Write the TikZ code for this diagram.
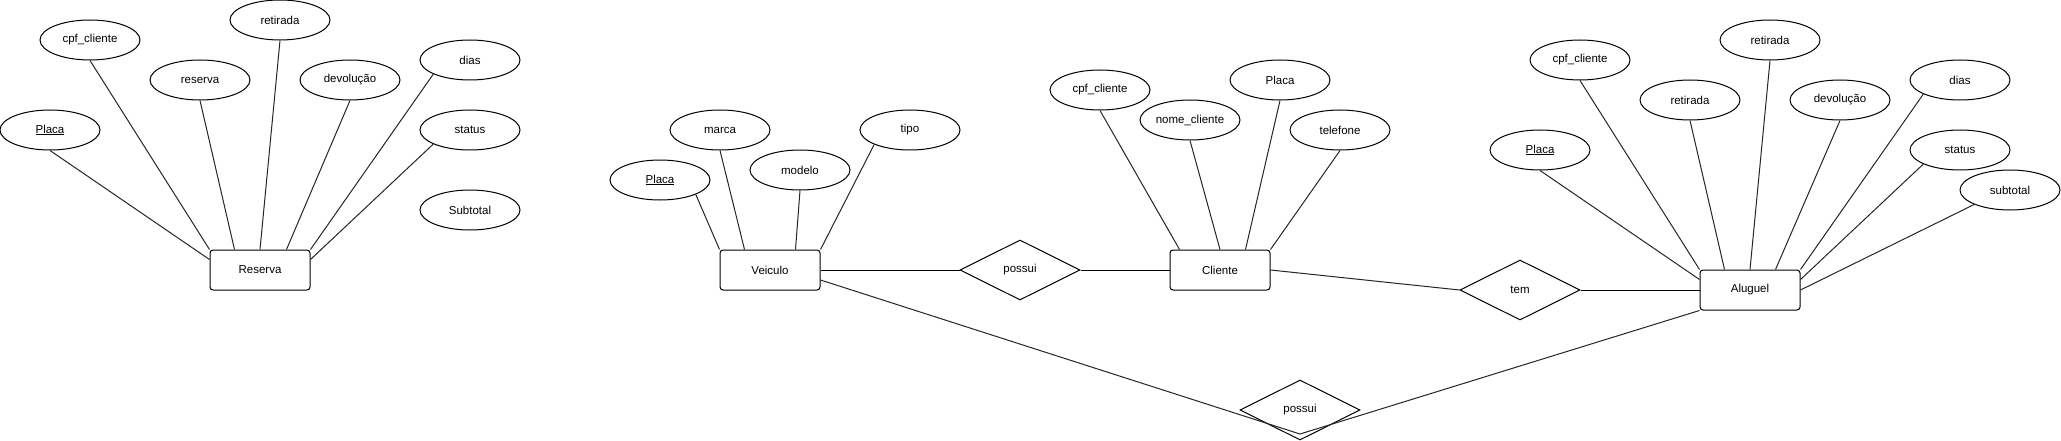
\documentclass[tikz,border=0pt]{standalone}
\usepackage{fontspec}
\setmainfont{Liberation Sans}
\usetikzlibrary{shapes.geometric}
\begin{document}
\begin{tikzpicture}[x=1pt,y=-1pt,
  lbl/.style={font=\fontsize{11.5}{13}\selectfont},
  attr/.style={ellipse,draw,line width=1pt,minimum width=100pt,minimum height=40pt,inner sep=0pt,lbl},
  ent/.style={rectangle,draw,rounded corners=3pt,line width=1pt,minimum width=100pt,minimum height=40pt,inner sep=0pt,lbl},
  rel/.style={diamond,draw,line width=1pt,minimum width=120pt,minimum height=60pt,shape aspect=2,inner sep=0pt,lbl},
  link/.style={line width=1pt,draw=black!85},
  hlink/.style={line width=1pt,draw=black}]
\useasboundingbox (0,0) rectangle (2061,441);
\fill[white] (0,0) rectangle (2061,441);

% ---------- Reserva ----------
\node[ent] (res) at (260,270) {Reserva};
\node[attr] (rpl) at (50,130) {\underline{Placa}};
\node[attr] (rcpf) at (90,40) {cpf\_cliente};
\node[attr] (rres) at (200,80) {reserva};
\node[attr] (rret) at (280,20) {retirada};
\node[attr] (rdev) at (350,80) {devolução};
\node[attr] (rdia) at (470,60) {dias};
\node[attr] (rsta) at (470,130) {status};
\node[attr] (rsub) at (470,210) {Subtotal};

\draw[link] (rpl.south) -- ([yshift=-10pt]res.north west);
\draw[link] (rcpf.south) -- (res.north west);
\draw[link] (rres.south) -- ([xshift=25pt]res.north west);
\draw[link] (rret.south) -- (res.north);
\draw[link] (rdev.south) -- ([xshift=-24pt]res.north east);
\draw[link] (rdia.201) -- (res.north east);
\draw[link] (rsta.201) -- ([yshift=-10pt]res.north east);

% ---------- Veiculo ----------
\node[ent] (vei) at (770,270) {Veiculo};
\node[attr] (vpl) at (660,180) {\underline{Placa}};
\node[attr] (vmar) at (720,130) {marca};
\node[attr] (vmod) at (800,170) {modelo};
\node[attr] (vtip) at (910,130) {tipo};

\draw[link] (vpl.338) -- (vei.north west);
\draw[link] (vmar.south) -- ([xshift=25pt]vei.north west);
\draw[link] (vmod.south) -- ([xshift=-25pt]vei.north east);
\draw[link] (vtip.202) -- (vei.north east);

% ---------- possui (top) ----------
\node[rel] (pos1) at (1020,270) {possui};

% ---------- Cliente ----------
\node[ent] (cli) at (1220,270) {Cliente};
\node[attr] (ccpf) at (1100,90) {cpf\_cliente};
\node[attr] (cnom) at (1190,120) {nome\_cliente};
\node[attr] (cpl) at (1280,80) {Placa};
\node[attr] (ctel) at (1340,130) {telefone};

\draw[link] (ccpf.south) -- ([xshift=10pt]cli.north west);
\draw[link] (cnom.south) -- (cli.north);
\draw[link] (cpl.south) -- ([xshift=-25pt]cli.north east);
\draw[link] (ctel.south) -- (cli.north east);

% ---------- tem ----------
\node[rel] (tem) at (1520,290) {tem};

% ---------- Aluguel ----------
\node[ent] (alu) at (1750,290) {Aluguel};
\node[attr] (apl) at (1540,150) {\underline{Placa}};
\node[attr] (acpf) at (1580,60) {cpf\_cliente};
\node[attr] (aret2) at (1690,100) {retirada};
\node[attr] (aret) at (1770,40) {retirada};
\node[attr] (adev) at (1840,100) {devolução};
\node[attr] (adia) at (1960,80) {dias};
\node[attr] (asta) at (1960,150) {status};
\node[attr] (asub) at (2010,190) {subtotal};

\draw[link] (apl.south) -- ([yshift=-10pt]alu.north west);
\draw[link] (acpf.south) -- (alu.north west);
\draw[link] (aret2.south) -- ([xshift=25pt]alu.north west);
\draw[link] (aret.south) -- (alu.north);
\draw[link] (adev.south) -- ([xshift=-25pt]alu.north east);
\draw[link] (adia.201) -- (alu.north east);
\draw[link] (asta.201) -- ([yshift=-10pt]alu.north east);
\draw[link] (asub.202) -- (alu.east);

% ---------- possui (bottom) ----------
\node[rel] (pos2) at (1300,410) {possui};

% ---------- relationships ----------
\draw[hlink] (vei.east) -- (pos1.west);
\draw[hlink] (pos1.east) -- (cli.west);
\draw[link] (cli.east) -- (tem.west);
\draw[hlink] (tem.east) -- (alu.west);
\draw[link] ([yshift=-10pt]vei.east) -- ([yshift=6.5pt]pos2.south);
\draw[link] (alu.south west) -- ([yshift=6.5pt]pos2.south);
\end{tikzpicture}
\end{document}
